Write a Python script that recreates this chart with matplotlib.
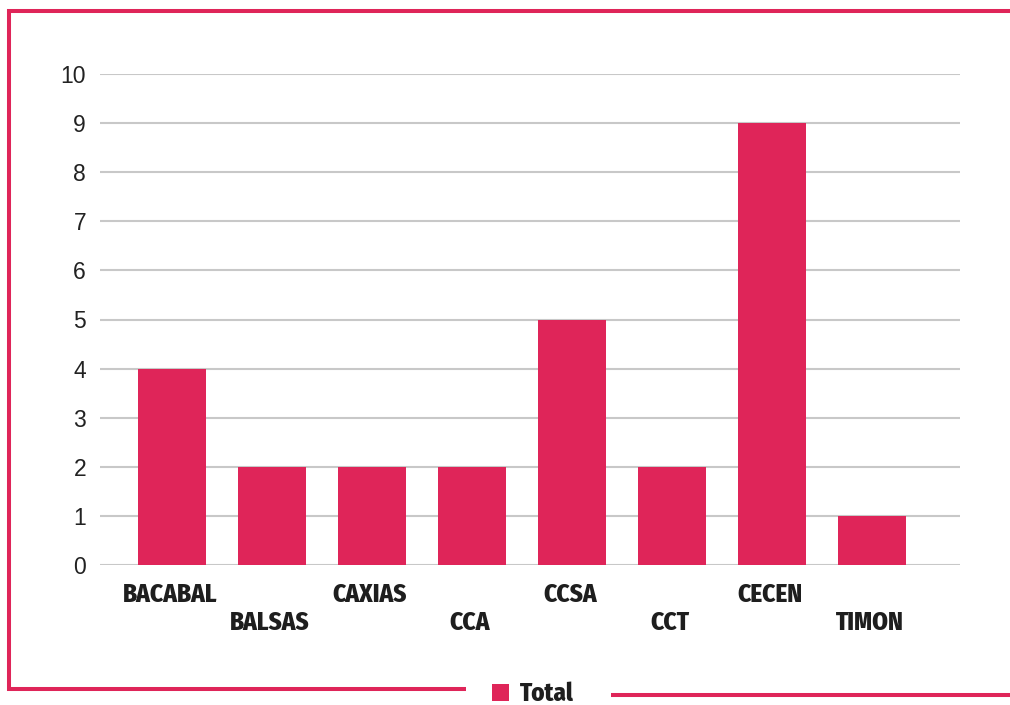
import numpy as np
import matplotlib
matplotlib.use('Agg')
import matplotlib.pyplot as plt
from matplotlib.lines import Line2D

# campus totals
campus = ['BACABAL', 'BALSAS', 'CAXIAS', 'CCA', 'CCSA', 'CCT', 'CECEN', 'TIMON']
total = [4, 2, 2, 2, 5, 2, 9, 1]
yticks = list(range(0, 11))

pink = '#df2559'
grid_grey = '#c8c8c8'
label_font = ['Fira Sans Condensed', 'DejaVu Sans']

W, H = 1010, 705
fig = plt.figure(figsize=(W / 100, H / 100), dpi=100)
ax = fig.add_axes([100 / W, 1 - 565 / H, 860 / W, (565 - 74) / H])

x = np.arange(len(campus))
bars = ax.bar(x, total, width=0.68, color=pink, zorder=3, label='Total')

ax.set_xlim(-0.72, 7.88)
ax.set_ylim(0, 10)
ax.set_yticks(yticks)
ax.set_yticklabels([str(t) for t in yticks], fontsize=16.5, color='#222222',
                   family=['Liberation Sans', 'DejaVu Sans'])
ax.tick_params(axis='y', length=0, pad=10)
ax.set_xticks([])
ax.grid(axis='y', color=grid_grey, linewidth=1.5, zorder=0)
for s in ax.spines.values():
    s.set_visible(False)

# staggered category labels
for i, name in enumerate(campus):
    yoff = -30 if i % 2 == 0 else -58
    ax.annotate(name, (i, 0), xytext=(-2, yoff), textcoords='offset pixels',
                ha='center', va='center', fontsize=18, fontweight=800,
                family=label_font, color='#1e1e1e')

# pink frame around the chart
def frame_line(xs, ys):
    fig.add_artist(Line2D([v / W for v in xs], [1 - v / H for v in ys],
                          transform=fig.transFigure, color=pink,
                          linewidth=2.9, solid_capstyle='butt'))

frame_line([7, 1010], [11, 11])
frame_line([9, 9], [9, 691])
frame_line([7, 466], [689, 689])
frame_line([611, 1010], [695, 695])

leg = fig.legend(handles=[bars], labels=['Total'], loc='center',
                 bbox_to_anchor=(533 / W, 1 - 694 / H), frameon=False,
                 handlelength=0.7, handleheight=0.7, handletextpad=0.45,
                 borderpad=0.1,
                 prop={'family': label_font, 'weight': 800, 'size': 18})
for t in leg.get_texts():
    t.set_color('#1e1e1e')

fig.savefig('out.png', dpi=100)
